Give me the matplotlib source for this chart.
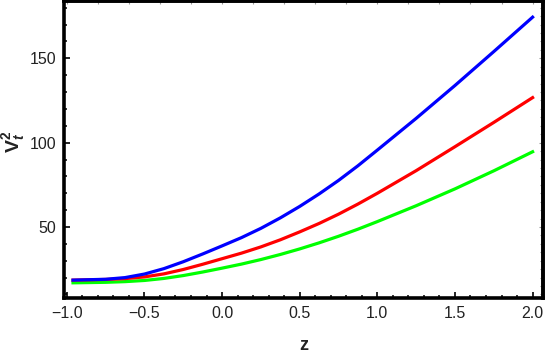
import numpy as np
import matplotlib.pyplot as plt
from matplotlib.ticker import MultipleLocator

plt.rcParams['font.family'] = ['Liberation Sans', 'DejaVu Sans']
plt.rcParams['mathtext.fontset'] = 'custom'
plt.rcParams['mathtext.rm'] = 'Liberation Sans:bold'
plt.rcParams['mathtext.it'] = 'Liberation Sans:italic:bold'
plt.rcParams['mathtext.bf'] = 'Liberation Sans:bold'

# valores
z = [-0.96, -0.75, -0.625, -0.5, -0.375, -0.25, -0.125, 0.0, 0.125, 0.25,
     0.375, 0.5, 0.625, 0.75, 0.875, 1.0, 1.25, 1.5, 1.75, 2.0]
v_azul = [18.5, 19.0, 20.0, 22.1, 25.3, 29.4, 34.0, 38.8, 43.7, 49.2,
          55.4, 62.2, 69.6, 77.6, 86.3, 95.6, 114.4, 133.9, 154.0, 174.4]
v_rojo = [18.5, 18.9, 19.4, 20.4, 22.2, 24.8, 27.9, 31.2, 34.5, 38.2,
          42.4, 47.1, 52.1, 57.6, 63.6, 70.0, 83.4, 97.6, 112.0, 126.7]
v_verde = [16.9, 17.2, 17.6, 18.3, 19.5, 21.2, 23.3, 25.6, 28.0, 30.7,
           33.7, 37.0, 40.6, 44.5, 48.7, 53.2, 62.6, 72.6, 83.3, 94.6]

fig = plt.figure(figsize=(5.45, 3.53), dpi=100)
ax = fig.add_axes([0.1183, 0.1558, 0.8789, 0.84])

ax.plot(z, v_verde, color=(0, 1, 0), lw=2.3)
ax.plot(z, v_rojo, color=(1, 0, 0), lw=2.3)
ax.plot(z, v_azul, color=(0, 0, 1), lw=2.3)

ax.set_xlim(-1.015, 2.07)
ax.set_ylim(7.9, 183.7)

ax.xaxis.set_major_locator(MultipleLocator(0.5))
ax.xaxis.set_minor_locator(MultipleLocator(0.1))
ax.yaxis.set_major_locator(MultipleLocator(50))
ax.yaxis.set_minor_locator(MultipleLocator(10))
ax.tick_params(which='major', direction='in', length=4, width=1.2,
               labelsize=11.5, labelcolor='#222222', pad=6)
ax.tick_params(which='minor', direction='in', length=2.2, width=1.1)
ax.xaxis.set_major_formatter(plt.FuncFormatter(lambda v, p: f'{v:.1f}'.replace('-', '\u2212')))
ax.yaxis.set_major_formatter(plt.FuncFormatter(lambda v, p: f'{v:.0f}'))

for s in ax.spines.values():
    s.set_linewidth(2.6)
    s.set_color('black')

# ticks sin etiqueta arriba y a la derecha
top = ax.secondary_xaxis('top')
top.xaxis.set_major_locator(MultipleLocator(0.2))
top.tick_params(direction='in', length=2.5, width=0.8, color='#999999', labeltop=False)
top.spines['top'].set_linewidth(2.6)
right = ax.secondary_yaxis('right')
right.yaxis.set_major_locator(MultipleLocator(50))
right.yaxis.set_minor_locator(MultipleLocator(5))
right.tick_params(which='major', direction='in', length=3, width=0.8, color='#999999', labelright=False)
right.tick_params(which='minor', direction='in', length=2, width=0.8, color='#999999')
right.spines['right'].set_linewidth(2.6)

fig.text(304 / 545, 1 - 346 / 353, 'z', fontsize=13, fontweight='bold',
         ha='center', va='center', color='#222222')
fig.text(14 / 545, 1 - 142 / 353, r'$\mathrm{V}_t^2$', fontsize=14, rotation=90,
         ha='center', va='center', color='#222222')

fig.savefig('out.png', dpi=100)
